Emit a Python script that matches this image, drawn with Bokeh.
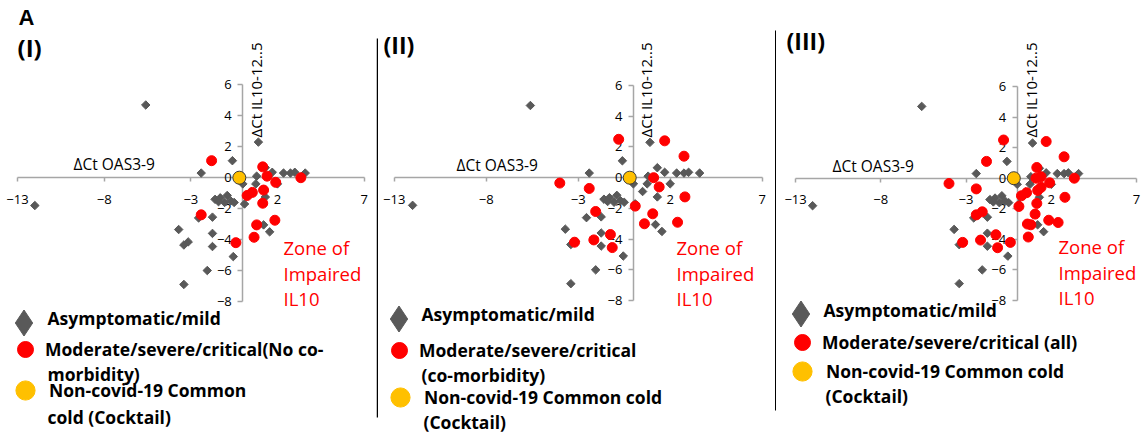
import math
from bokeh.plotting import figure
from bokeh.models import (LinearAxis, FixedTicker, Label, Legend, LegendItem,
                          BoxAnnotation, Range1d)
from bokeh.layouts import row
from bokeh.embed import file_html
from bokeh.resources import INLINE

# ---------------- data ----------------
x_ticks = [-13, -8, -3, 2, 7]
y_ticks = [-8, -6, -4, -2, 0, 2, 4, 6]

asym_x = [-5.6, -12.0, 0.9, -0.6, -2.4, 0.0, 0.8, 1.3, 1.7, 2.35, 2.75, 3.0, 3.6,
          0.75, 2.0, 0.5, 1.3, 0.1, -1.6, -1.3, -0.9, -0.7, -0.5, -1.05, -1.4,
          1.2, 1.55, -1.75, -2.55, -3.7, -1.75, -3.15, -3.4, -1.75, -0.55, -2.05, -3.4]
asym_y = [4.7, -1.8, 2.3, 1.1, 0.3, -0.4, 0.1, 0.65, 0.35, 0.3, 0.3, 0.35, 0.3,
          -0.4, -0.4, -0.9, -1.25, -1.7, -1.4, -1.3, -1.15, -1.5, -1.6, -1.6, -1.55,
          -3.05, -3.5, -2.55, -2.6, -3.35, -3.6, -4.15, -4.35, -4.45, -5.1, -6.0, -6.9]

sev_nocomorb_x = [-1.8, 1.15, 1.4, 1.9, 3.35, 1.2, 0.55, 0.25, 1.15, 1.85, 0.8, 0.65, -0.4, -2.4]
sev_nocomorb_y = [1.1, 0.7, 0.1, -0.3, 0.0, -0.8, -0.95, -1.15, -1.65, -2.75, -3.05, -3.85, -4.2, -2.4]

sev_comorb_x = [-0.8, 1.7, 2.75, -4.0, -2.4, 1.1, 1.4, 2.8, 0.1, 1.05, 0.6, 2.4, -2.05,
                -1.25, -2.15, -3.2, -1.15]
sev_comorb_y = [2.5, 2.4, 1.4, -0.35, -0.7, 0.0, -0.6, -1.25, -1.85, -2.35, -3.0, -2.9, -2.2,
                -3.7, -4.05, -4.2, -4.55]

cold_x = [-0.2]
cold_y = [0.0]

panel_labels = ["(I)", "(II)", "(III)"]
asym_label = "Asymptomatic/mild"
sev_labels = [["Moderate/severe/critical(No co-", "morbidity)"],
              ["Moderate/severe/critical", "(co-morbidity)"],
              ["Moderate/severe/critical (all)"]]
cold_labels = [["Non-covid-19 Common", "cold (Cocktail)"],
               ["Non-covid-19 Common cold", "(Cocktail)"],
               ["Non-covid-19 Common cold", "(Cocktail)"]]
x_title = "ΔCt OAS3-9"
y_title = "ΔCt  IL10-12..5"
zone_lines = ["Zone of", "Impaired", "IL10"]

# ---------------- style / layout ----------------
H = 435
FONT = "Open Sans"
AXIS_COLOR = "#A6A6A6"
GRAY = "#595959"
RED = "#FF0000"
YELLOW = "#FFC000"
LEG_FS = "17.5px"
DY = 7  # baseline correction for alphabetic labels

layouts = [
    dict(w=376, x0=242.3, xs=17.33, y0=177.2, ys=15.47, tfs="24px",
         title=(17, 54), ytitle=(255, 137), xtitle=(73, 170), zone=(283, [254, 279.5, 305]),
         leg=[(23, 322, 46, 319), (25, 349, 46, [375]), (25, 390, 46, [418])]),
    dict(w=400, x0=256.9, xs=18.4, y0=177.2, ys=15.36, tfs="23px",
         title=(7, 51), ytitle=(269.5, 137), xtitle=(80, 171), zone=(300, [254, 279.5, 305]),
         leg=[(22, 318, 44, 315), (23, 350, 44, [376]), (24, 397, 46, [423])]),
    dict(w=372, x0=240.7, xs=17.05, y0=177.7, ys=15.28, tfs="23px",
         title=(10, 47), ytitle=(254.5, 137), xtitle=(56, 172), zone=(282, [253, 278.5, 304]),
         leg=[(24, 313, 46, 311), (26, 342, 46, []), (26, 371, 48, [397])]),
]


def add_legend(p, rs, text, cx, cy, lx, g):
    leg = Legend(items=[LegendItem(label=text, renderers=rs)],
                 location=(cx - g / 2, H - cy - g / 2), orientation="vertical",
                 glyph_width=g, glyph_height=g,
                 label_standoff=max(0, int(round(lx - (cx + g / 2))) - 2),
                 padding=0, margin=0, spacing=0, border_line_color=None,
                 background_fill_alpha=0, inactive_fill_alpha=0, label_text_font=FONT,
                 label_text_font_style="bold", label_text_font_size=LEG_FS,
                 label_text_color="black", label_height=10, label_width=1)
    p.add_layout(leg)


def text_label(p, x, y, text, size, bold=False, color="black", baseline="alphabetic",
               angle=0.0, font=FONT, align="left"):
    if baseline == "alphabetic":
        y -= DY
    p.add_layout(Label(x=x, y=H - y, x_units="screen", y_units="screen", text=text,
                       text_font=font, text_font_size=size, text_color=color,
                       text_font_style="bold" if bold else "normal",
                       text_baseline=baseline, text_align=align, angle=angle))


def make_panel(i, sev_x, sev_y):
    L = layouts[i]
    w = L["w"]
    xr = (-L["x0"] / L["xs"], (w - L["x0"]) / L["xs"])
    yr = ((L["y0"] - H) / L["ys"], L["y0"] / L["ys"])
    p = figure(width=w, height=H, x_range=Range1d(*xr), y_range=Range1d(*yr),
               output_backend="svg", toolbar_location=None, x_axis_type=None,
               y_axis_type=None, min_border=0, outline_line_color=None,
               background_fill_color="white", border_fill_color="white")

    common = dict(fixed_location=0, axis_line_color=AXIS_COLOR, axis_line_width=1.5,
                  major_tick_line_color=AXIS_COLOR, major_tick_line_width=1.5,
                  major_tick_in=0, minor_tick_line_color=None,
                  major_label_text_font=FONT, major_label_text_font_size="13px",
                  major_label_text_color="black", level="underlay")
    xa = LinearAxis(bounds=(x_ticks[0], x_ticks[-1]), ticker=FixedTicker(ticks=x_ticks),
                    major_tick_out=4, major_label_standoff=13, **common)
    ya = LinearAxis(bounds=(y_ticks[0], y_ticks[-1]), ticker=FixedTicker(ticks=y_ticks),
                    major_tick_out=5, major_label_standoff=6, **common)
    p.add_layout(xa, "below")
    p.add_layout(ya, "left")

    p.scatter(asym_x, asym_y, marker="square", size=6, angle=math.pi / 4,
              fill_color=GRAY, line_color=GRAY)
    r_sev = p.scatter(sev_x, sev_y, marker="circle", size=10, fill_color=RED,
                      line_color=RED)
    p.scatter(cold_x, cold_y, marker="circle", size=13, fill_color=YELLOW,
              line_color="#3A3A3A", line_width=1)
    # legend keys (hidden renderers, only drawn inside the legends)
    k_asym = p.scatter(asym_x, asym_y, marker="diamond", fill_color=GRAY,
                       line_color=GRAY, visible=False)
    k_cold = p.scatter(cold_x, cold_y, marker="circle", fill_color=YELLOW,
                       line_color=YELLOW, visible=False)

    # texts
    if i == 0:
        text_label(p, 18, 24, "A", "22px", bold=True, font="Liberation Sans")
    tx, ty = L["title"]
    text_label(p, tx, ty, panel_labels[i], L["tfs"], bold=True)
    yx, yy = L["ytitle"]
    text_label(p, yx, yy, y_title, "15px", baseline="middle", angle=math.pi / 2)
    xx, xy = L["xtitle"]
    text_label(p, xx, xy, x_title, "15.5px")
    zx, zys = L["zone"]
    for line, zy in zip(zone_lines, zys):
        text_label(p, zx, zy, line, "18.5px", color=RED)

    # legend
    a, s, c = L["leg"]
    add_legend(p, [k_asym], " ", a[0], a[1], a[0] + 20, 65)
    text_label(p, a[2] + 1, a[3] - 2, asym_label, LEG_FS, bold=True, baseline="middle")
    add_legend(p, [r_sev], sev_labels[i][0], s[0], s[1], s[2], 40)
    for line, ly in zip(sev_labels[i][1:], s[3]):
        text_label(p, s[2] + 1, ly - 2, line, LEG_FS, bold=True, baseline="middle")
    add_legend(p, [k_cold], cold_labels[i][0], c[0], c[1], c[2], 48)
    for line, ly in zip(cold_labels[i][1:], c[3]):
        text_label(p, c[2] + 1, ly - 2, line, LEG_FS, bold=True, baseline="middle")
    return p


p1 = make_panel(0, sev_nocomorb_x, sev_nocomorb_y)
p2 = make_panel(1, sev_comorb_x, sev_comorb_y)
p3 = make_panel(2, sev_nocomorb_x + sev_comorb_x, sev_nocomorb_y + sev_comorb_y)

# panel separators
for left, bottom, top in [(0, 417, 38), (398.5, 410, 30)]:
    p2.add_layout(BoxAnnotation(left=left, right=left + 1.5, bottom=H - bottom, top=H - top,
                                left_units="screen", right_units="screen",
                                bottom_units="screen", top_units="screen",
                                fill_color="black", fill_alpha=1, line_color=None))

layout = row(p1, p2, p3)
open("out.html", "w").write(file_html(layout, INLINE))
